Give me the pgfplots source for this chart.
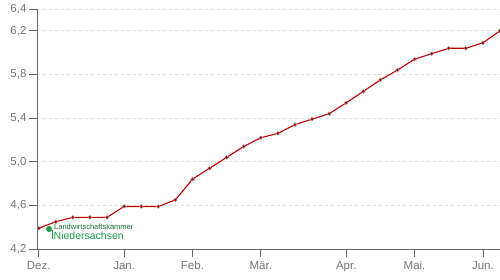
\documentclass[border=0pt]{standalone}
\usepackage{pgfplots}
\pgfplotsset{compat=1.18}
\usetikzlibrary{calc}
\usepackage{fontspec}
\setmainfont{Liberation Sans}
\definecolor{axgray}{HTML}{666666}
\definecolor{gridgray}{HTML}{DDDDDD}
\definecolor{linered}{HTML}{C00000}
\definecolor{lwkgreen}{HTML}{1E9A4B}
\begin{document}
\begin{tikzpicture}
\begin{axis}[
  name=ax,
  scale only axis,
  width=463pt, height=240pt,
  xmin=-0.1, xmax=27,
  ymin=4.2, ymax=6.4,
  axis lines=left,
  axis line style={-, axgray, line width=0.8pt},
  xtick={0,5,9,13,18,22,26},
  xticklabels={Dez.,Jan.,Feb.,Mär.,Apr.,Mai.,Jun.},
  ytick={4.2,4.6,5.0,5.4,5.8,6.2,6.4},
  /pgf/number format/fixed,
  /pgf/number format/fixed zerofill,
  /pgf/number format/precision=1,
  /pgf/number format/use comma,
  /pgf/number format/assume math mode=true,
  tick align=outside,
  major tick length=8pt,
  tick style={axgray, line width=0.8pt},
  ymajorgrids,
  grid style={gridgray, dashed, line width=0.8pt},
  ticklabel style={font=\fontsize{11.5}{13}\selectfont, text=axgray!90},
  xticklabel style={yshift=-1pt},
  yticklabel style={xshift=1pt},
  clip=false,
]
\addplot[color=linered, line width=1.1pt, mark=*, mark size=1.9pt,
  mark options={fill=linered!85!black, draw=gray!70, line width=0.4pt}]
coordinates {
(0,4.39) (1,4.45) (2,4.49) (3,4.49) (4,4.49) (5,4.59) (6,4.59) (7,4.59)
(8,4.65) (9,4.84) (10,4.94) (11,5.04) (12,5.14) (13,5.22) (14,5.26)
(15,5.34) (16,5.39) (17,5.44) (18,5.54) (19,5.645) (20,5.75) (21,5.84)
(22,5.94) (23,5.99) (24,6.04) (25,6.04) (26,6.09) (27,6.20)
};
\end{axis}
% logo
\fill[lwkgreen] ($(ax.south west)+(12pt,20pt)$) circle (3pt);
\draw[lwkgreen, line width=1pt] ($(ax.south west)+(15pt,19pt)$) -- ($(ax.south west)+(15pt,10pt)$);
\node[anchor=west, inner sep=0pt, text=lwkgreen!70!black, font=\fontsize{7.5}{8}\selectfont]
  at ($(ax.south west)+(17pt,22pt)$) {Landwirtschaftskammer};
\node[anchor=west, inner sep=0pt, text=lwkgreen, font=\fontsize{10.5}{11}\selectfont]
  at ($(ax.south west)+(16.5pt,13.5pt)$) {Niedersachsen};
\pgfresetboundingbox
\path ($(ax.south west)+(-37pt,-31pt)$) rectangle ($(ax.north east)+(0pt,9pt)$);
\end{tikzpicture}
\end{document}
